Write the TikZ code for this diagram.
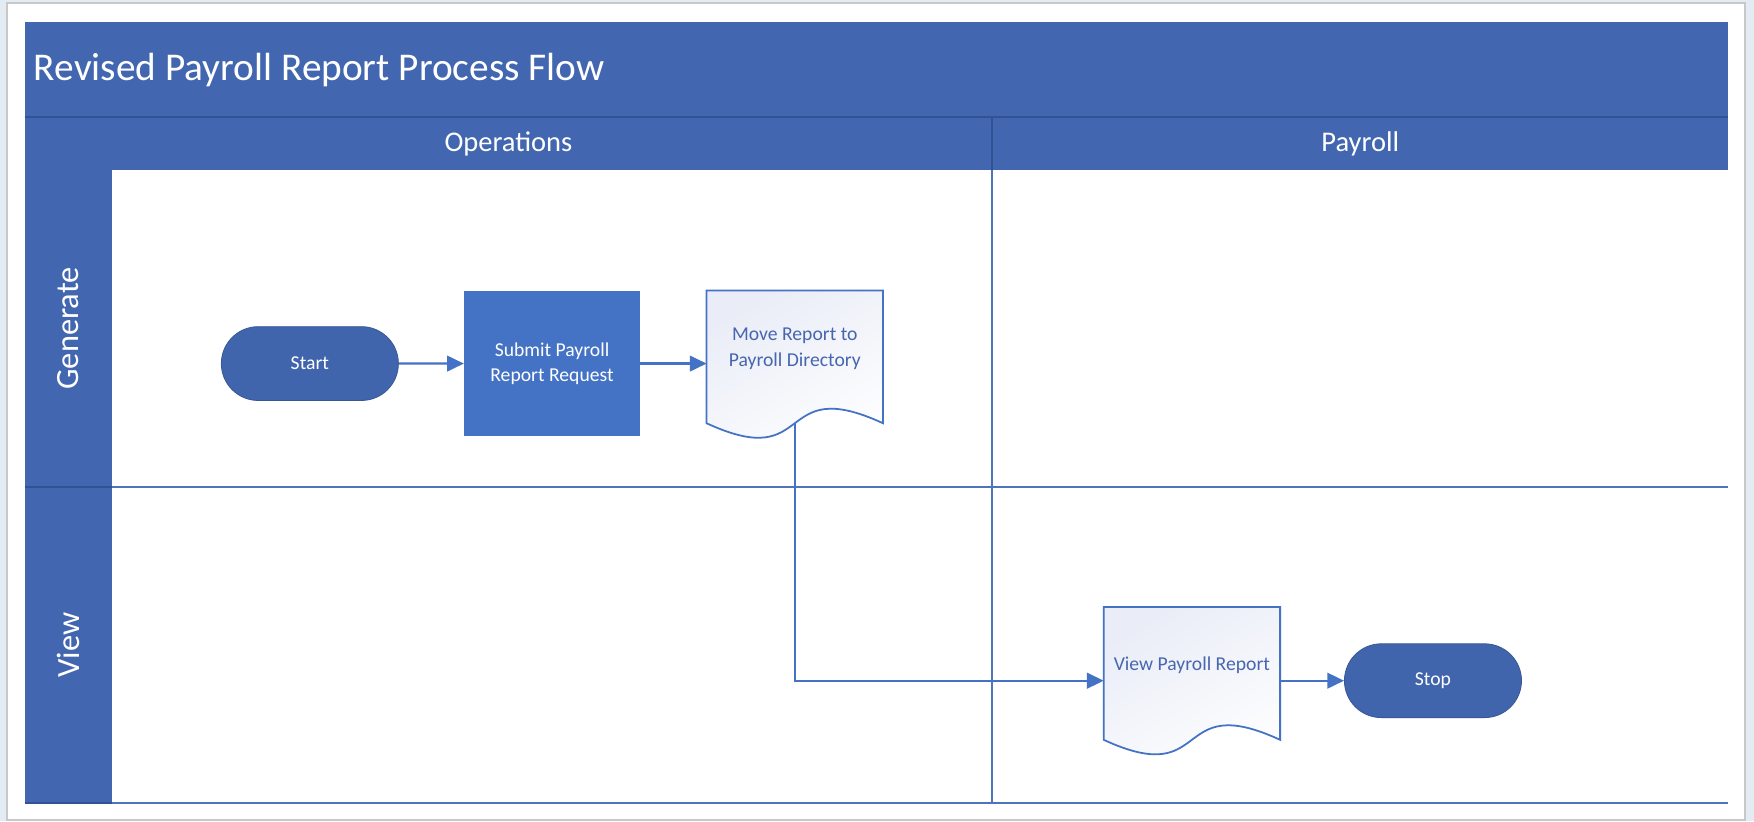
\documentclass[tikz,border=0pt]{standalone}
\usepackage{fontspec}
\setmainfont{Carlito}
\usetikzlibrary{arrows.meta,calc,shapes.misc}

\definecolor{hdrblue}{RGB}{66,103,176}
\definecolor{hdrrule}{RGB}{50,82,148}
\definecolor{laneline}{RGB}{80,115,186}
\definecolor{boxblue}{RGB}{68,114,196}
\definecolor{termblue}{RGB}{65,101,173}
\definecolor{doctext}{RGB}{70,102,176}
\definecolor{docfill}{RGB}{234,237,247}
\definecolor{cardline}{RGB}{200,200,200}
\definecolor{backdrop}{RGB}{226,236,242}

\pgfdeclarelayer{lanes}
\pgfdeclarelayer{shapes}
\pgfsetlayers{lanes,shapes,main}

\tikzset{
  boxfont/.style={font=\fontsize{10}{13}\selectfont},
  terminal/.style={rounded rectangle, fill=termblue, draw=termblue!85!black, text=white,
    minimum width=3.40cm, minimum height=1.32cm, boxfont},
  process/.style={rectangle, fill=boxblue, text=white, align=center,
    minimum width=3.14cm, minimum height=2.58cm, boxfont},
  document/.style={rectangle, text=doctext, align=center, text depth=0.34cm,
    minimum width=3.14cm, minimum height=2.36cm, boxfont},
  docline/.style={draw=boxblue, line width=0.9pt, top color=docfill, middle color=white, bottom color=white, shading angle=30},
  flow/.style={draw=boxblue, line width=1.1pt, -{Triangle[length=0.30cm,width=0.28cm]}},
  lane/.style={draw=laneline, line width=1pt},
  lanerule/.style={draw=hdrrule, line width=1pt},
  headtext/.style={text=white, inner sep=0pt}
}

\begin{document}
\begin{tikzpicture}
            % Payroll swimlanes
            \useasboundingbox (0,0) rectangle (31.36,-14.68);
            \begin{pgfonlayer}{lanes}
            \fill[backdrop] (0,0) rectangle (31.36,-14.68);
            \draw[cardline, fill=white, line width=1pt] (0.12,-0.06) rectangle (31.20,-14.66);
            \fill[hdrblue] (0.44,-0.40) rectangle (30.90,-3.04); % title + columns
            \fill[hdrblue] (0.44,-3.04) rectangle (2.00,-14.36); % lane column

            \draw[lanerule] (0.44,-2.10) -- (30.90,-2.10);
            \draw[lanerule] (17.74,-2.10) -- (17.74,-3.04);
            \draw[lanerule] (0.44,-8.70) -- (2.00,-8.70);
            \draw[lanerule] (0.44,-14.36) -- (2.00,-14.36);
            \draw[lane] (17.74,-3.04) -- (17.74,-14.36);
            \draw[lane] (2.00,-8.70) -- (30.90,-8.70);
            \draw[lane] (2.00,-14.36) -- (30.90,-14.36);
            \end{pgfonlayer}

            \node[headtext, anchor=west, font=\fontsize{20}{24}\selectfont] (title) at (0.60,-1.26) {Revised Payroll Report Process Flow};
            \node[headtext, font=\fontsize{14.5}{17}\selectfont] (ops) at (9.09,-2.57) {Operations};
            \node[headtext, font=\fontsize{14.5}{17}\selectfont] (pay) at (24.32,-2.57) {Payroll};
            \node[headtext, rotate=90, font=\fontsize{16.5}{19}\selectfont] (gen) at (1.22,-5.87) {Generate};
            \node[headtext, rotate=90, font=\fontsize{16.5}{19}\selectfont] (vw) at (1.22,-11.53) {View};

            \node[terminal] at (5.54,-6.50) (START) {Start};
            \node[process] at (9.87,-6.50) (SUBMIT) {Submit Payroll\\Report Request};
            \node[document] at (14.21,-6.38) (MOVE) {Move Report to\\Payroll Directory};
            \node[document] at (21.31,-12.04) (VIEW) {View Payroll Report};
            \node[terminal] at (25.62,-12.17) (STOP) {Stop};

            % wavy document outlines
            \begin{pgfonlayer}{shapes}
            \foreach \d in {MOVE,VIEW} {
                \draw[docline] (\d.north west) -- (\d.south west)
                    .. controls ($(\d.south west)+(1.95,-0.9)$) and ($(\d.south east)+(-1.95,0.9)$) .. (\d.south east)
                    -- (\d.north east) -- cycle;
            }
            \end{pgfonlayer}

            \draw[flow] (START) -- (SUBMIT);
            \draw[flow] (SUBMIT.east) -- (SUBMIT.east -| MOVE.west);
            \draw[flow] (MOVE.south) |- (VIEW.west |- STOP.west);
            \draw[flow] (VIEW.east |- STOP.west) -- (STOP.west);
        \end{tikzpicture}
\end{document}
